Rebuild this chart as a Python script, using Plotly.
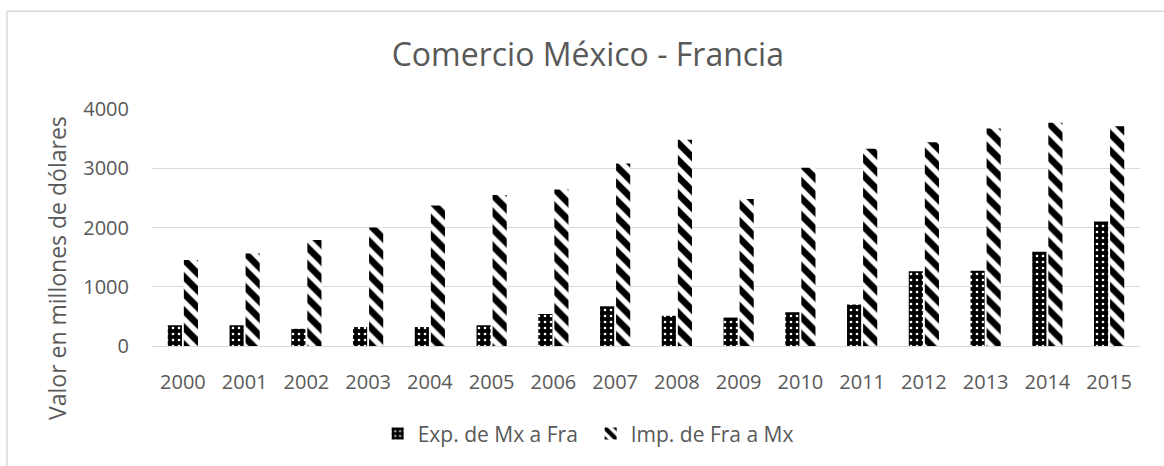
import plotly.graph_objects as go

years = [str(y) for y in range(2000, 2016)]
exp_mx_fra = [350, 350, 290, 320, 320, 350, 540, 670, 510, 480, 570, 700, 1260, 1270, 1590, 2100]
imp_fra_mx = [1450, 1560, 1790, 2000, 2370, 2550, 2640, 3080, 3480, 2480, 3010, 3330, 3440, 3670, 3770, 3710]
y_ticks = [0, 1000, 2000, 3000, 4000]

FONT = "Open Sans"
GREY = "#595959"

fig = go.Figure()
fig.add_trace(go.Bar(
    x=years, y=exp_mx_fra, name="Exp. de Mx a Fra",
    marker=dict(color="black", line=dict(width=0),
                pattern=dict(shape=".", fgcolor="white", bgcolor="black", fgopacity=1,
                             size=6, solidity=0.15, fillmode="overlay")),
))
fig.add_trace(go.Bar(
    x=years, y=imp_fra_mx, name="Imp. de Fra a Mx",
    marker=dict(color="white", line=dict(width=0),
                pattern=dict(shape="\\", fgcolor="black", bgcolor="white", fgopacity=1,
                             size=12, solidity=0.55, fillmode="overlay")),
))

fig.update_layout(
    width=1164, height=466,
    margin=dict(l=152, r=24, t=109, b=117),
    paper_bgcolor="white", plot_bgcolor="white",
    barmode="group", bargap=0.48, bargroupgap=0.12,
    font=dict(family=FONT, color=GREY, size=20),
    title=dict(text="Comercio México - Francia", x=0.505, xanchor="center",
               y=1 - 55 / 466, yanchor="middle", yref="container",
               font=dict(family=FONT, size=32, color=GREY)),
    legend=dict(orientation="h", x=0.444, xanchor="center", y=-0.371, yanchor="middle",
                font=dict(family=FONT, size=21, color=GREY), itemwidth=30,
                entrywidth=168, traceorder="normal"),
    showlegend=True,
)
fig.update_xaxes(showgrid=False, showline=False, zeroline=False,
                 tickfont=dict(family=FONT, size=20, color=GREY),
                 ticklabelstandoff=22)
fig.update_yaxes(range=[0, 4000], tickvals=y_ticks, showgrid=True, gridcolor="#d9d9d9",
                 gridwidth=1.3, zeroline=True, zerolinecolor="#d9d9d9", zerolinewidth=1.3,
                 showline=False, tickfont=dict(family=FONT, size=20, color=GREY),
                 ticklabelstandoff=22)

fig.add_annotation(text="Valor en millones de dólares", textangle=-90,
                   xref="paper", yref="paper", x=(57 - 152) / 988, y=(349 - 270) / 240,
                   xanchor="center", yanchor="middle", showarrow=False,
                   font=dict(family=FONT, size=23, color=GREY))

fig.add_shape(type="rect", xref="paper", yref="paper",
              x0=-0.1468, x1=1.2, y0=-0.7, y1=1.4125,
              line=dict(color="#d9d9d9", width=1.5), fillcolor="rgba(0,0,0,0)", layer="below")

fig.write_html("out.html", config={"displayModeBar": False},
               post_script="document.body.style.margin='0';")
